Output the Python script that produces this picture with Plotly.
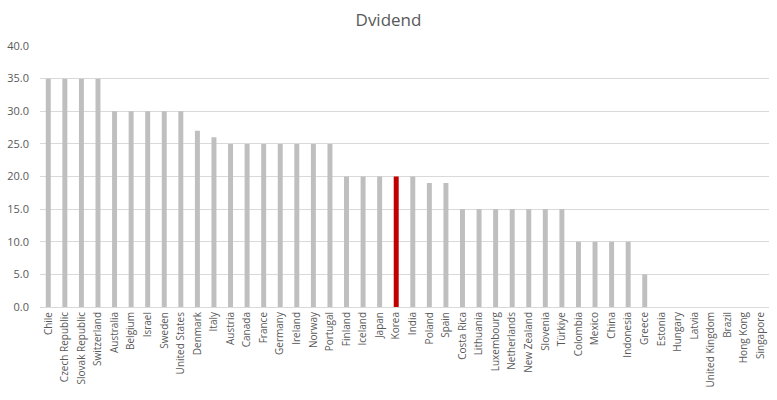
import plotly.graph_objects as go

countries = ["Chile", "Czech Republic", "Slovak Republic", "Switzerland", "Australia", "Belgium",
             "Israel", "Sweden", "United States", "Denmark", "Italy", "Austria", "Canada", "France",
             "Germany", "Ireland", "Norway", "Portugal", "Finland", "Iceland", "Japan", "Korea",
             "India", "Poland", "Spain", "Costa Rica", "Lithuania", "Luxembourg", "Netherlands",
             "New Zealand", "Slovenia", "Türkiye", "Colombia", "Mexico", "China", "Indonesia",
             "Greece", "Estonia", "Hungary", "Latvia", "United Kingdom", "Brazil", "Hong Kong",
             "Singapore"]
dividend = [35, 35, 35, 35, 30, 30, 30, 30, 30, 27, 26, 25, 25, 25, 25, 25, 25, 25, 20, 20, 20, 20,
            20, 19, 19, 15, 15, 15, 15, 15, 15, 15, 10, 10, 10, 10, 5, 0, 0, 0, 0, 0, 0, 0]
highlight = "Korea"

colors = ["#C00000" if c == highlight else "#BFBFBF" for c in countries]

fig = go.Figure(go.Bar(x=countries, y=dividend, marker=dict(color=colors, line=dict(width=0))))

fig.update_layout(
    width=777, height=400,
    margin=dict(l=40, r=8, t=46, b=93),
    paper_bgcolor="white", plot_bgcolor="white",
    bargap=0.7,
    showlegend=False,
    title=dict(text="Dvidend", x=0.5, xanchor="center", y=0.95, yanchor="middle",
               font=dict(size=17, color="#595959", family="Open Sans")),
    font=dict(family="Open Sans", size=10, color="#595959"),
)
fig.update_xaxes(tickangle=-90, showgrid=False, showline=True, linecolor="#D9D9D9", linewidth=1,
                 ticks="", automargin=False, tickfont=dict(size=10, color="#595959"))
fig.update_yaxes(range=[0, 40], dtick=5, tickformat=".1f", showgrid=True, gridcolor="#D9D9D9",
                 gridwidth=1, zeroline=False, ticks="", automargin=False, ticklabelstandoff=10,
                 tickfont=dict(size=11, color="#595959"))

fig.write_html("out.html", config={"displayModeBar": False},
               post_script="document.body.style.margin='0';document.body.style.overflow='hidden';")
